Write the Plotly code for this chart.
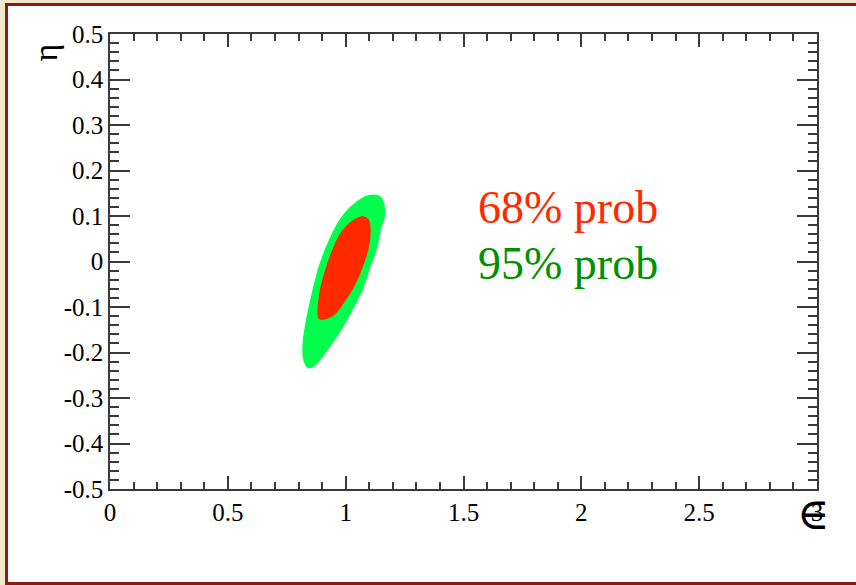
import plotly.graph_objects as go

# Boundary of the 95% probability region (epsilon, eta)
eps95 = [1.096, 1.146, 1.160, 1.163, 1.146, 1.132, 1.103, 1.068, 1.018, 0.969, 0.919,
         0.870, 0.842, 0.823, 0.820, 0.832, 0.856, 0.884, 0.926, 0.976, 1.032, 1.096]
eta95 = [0.144, 0.142, 0.128, 0.098, 0.069, 0.033, -0.011, -0.063, -0.114, -0.158, -0.195,
         -0.227, -0.233, -0.216, -0.180, -0.136, -0.077, -0.019, 0.040, 0.091, 0.124, 0.144]

# Boundary of the 68% probability region
eps68 = [1.075, 1.096, 1.103, 1.096, 1.075, 1.040, 0.997, 0.955, 0.919, 0.888, 0.884,
         0.891, 0.912, 0.941, 0.976, 1.018, 1.061, 1.075]
eta68 = [0.098, 0.091, 0.069, 0.033, -0.004, -0.048, -0.085, -0.114, -0.125, -0.125, -0.107,
         -0.070, -0.026, 0.018, 0.058, 0.084, 0.097, 0.098]

x_ticks = [0, 0.5, 1, 1.5, 2, 2.5, 3]
x_labels = ["0", "0.5", "1", "1.5", "2", "2.5", "3"]
y_ticks = [-0.5, -0.4, -0.3, -0.2, -0.1, 0, 0.1, 0.2, 0.3, 0.4, 0.5]
y_labels = ["-0.5", "-0.4", "-0.3", "-0.2", "-0.1", "0", "0.1", "0.2", "0.3", "0.4", "0.5"]

labels = ["68% prob", "95% prob"]
label_pos_eps = [1.555, 1.555]
label_pos_eta = [0.119, -0.004]

RED = "#ff2a00"
GREEN = "#00ff4c"
GREEN_TXT = "#009000"

fig = go.Figure()
fig.add_trace(go.Scatter(x=eps95, y=eta95, fill="toself", fillcolor=GREEN,
                         line=dict(color=GREEN, width=1.5, shape="spline"), mode="lines",
                         hoverinfo="skip", showlegend=False))
fig.add_trace(go.Scatter(x=eps68, y=eta68, fill="toself", fillcolor=RED,
                         line=dict(color=RED, width=1.5, shape="spline"), mode="lines",
                         hoverinfo="skip", showlegend=False))

W, H = 856, 585
L, R, T, B = 110, 39, 34, 96
pw, ph = W - L - R, H - T - B

def px2paper_x(px):
    return (px - L) / pw

def px2paper_y(py):
    return (H - B - py) / ph

# page frame
fig.add_shape(type="rect", xref="paper", yref="paper",
              x0=px2paper_x(6.5), x1=px2paper_x(880), y0=px2paper_y(583.5), y1=px2paper_y(4.5),
              fillcolor="white", line=dict(color="#8c1a10", width=3), layer="below")

TICKFONT = dict(family="Liberation Serif", size=25, color="black")
axis_common = dict(
    showgrid=False, zeroline=False, showline=True, linecolor="#3a3a3a", linewidth=1.5,
    mirror="ticks", ticks="inside", tickcolor="#3a3a3a", tickwidth=1.5,
)

fig.update_xaxes(range=[0, 3], tickvals=x_ticks, ticktext=x_labels, ticklen=13,
                 tickfont=TICKFONT, ticklabelstandoff=0,
                 minor=dict(dtick=0.1, ticklen=7, ticks="inside", tickcolor="#3a3a3a", tickwidth=1.5),
                 **axis_common)
fig.update_yaxes(range=[-0.5, 0.5], tickvals=y_ticks, ticktext=y_labels, ticklen=20,
                 tickfont=TICKFONT, ticklabelstandoff=0,
                 minor=dict(dtick=0.02, ticklen=9, ticks="inside", tickcolor="#3a3a3a", tickwidth=1.5),
                 **axis_common)

for txt, ex, ey, col in zip(labels, label_pos_eps, label_pos_eta, [RED, GREEN_TXT]):
    fig.add_annotation(x=ex, y=ey, text=txt, showarrow=False, xanchor="left", yanchor="middle",
                       font=dict(family="Liberation Serif", size=46, color=col))

# axis titles
fig.add_annotation(xref="paper", yref="paper", x=px2paper_x(24), y=px2paper_y(42),
                   text="η", textangle=-90, showarrow=False,
                   font=dict(family="Liberation Serif", size=34, color="black"))
fig.add_annotation(xref="paper", yref="paper", x=px2paper_x(795), y=px2paper_y(486),
                   text="∈", showarrow=False, yanchor="top", xanchor="left",
                   font=dict(family="DejaVu Serif", size=44, color="black"))

fig.update_layout(width=W, height=H, margin=dict(l=L, r=R, t=T, b=B),
                  paper_bgcolor="#f1e8cc", plot_bgcolor="white")

fig.write_html("out.html")
